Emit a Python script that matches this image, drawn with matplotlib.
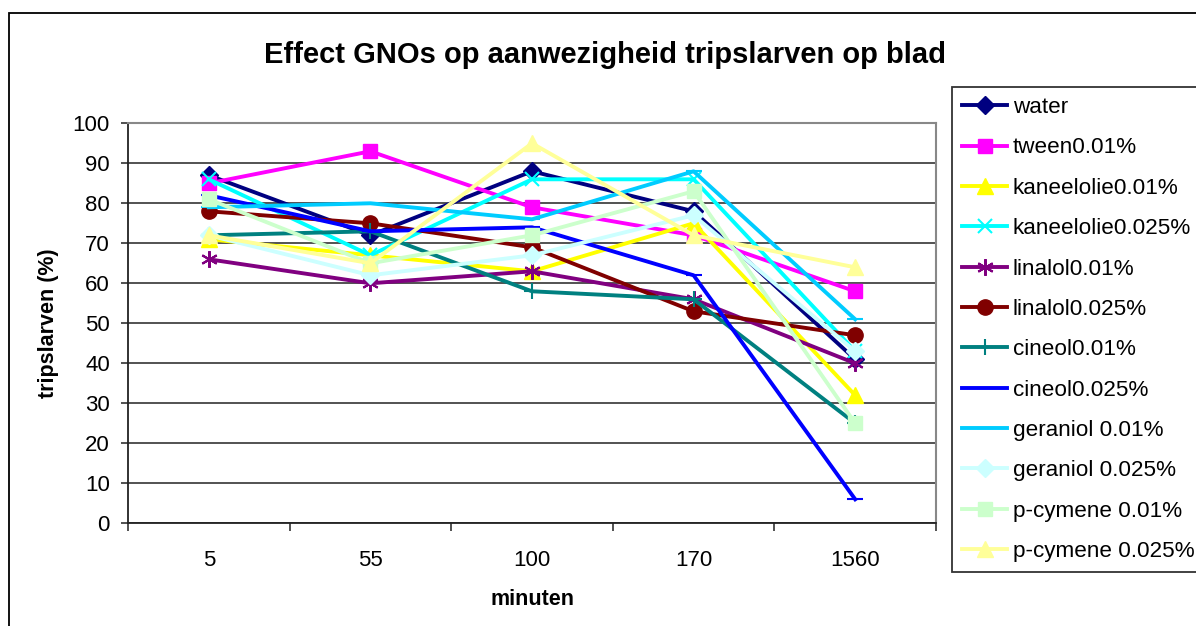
import matplotlib
matplotlib.use('Agg')
import matplotlib.pyplot as plt
import matplotlib.patches as patches

plt.rcParams['font.family'] = ['Liberation Sans', 'DejaVu Sans']

# data
minutes = ['5', '55', '100', '170', '1560']
series_names = ['water', 'tween0.01%', 'kaneelolie0.01%', 'kaneelolie0.025%',
                'linalol0.01%', 'linalol0.025%', 'cineol0.01%', 'cineol0.025%',
                'geraniol 0.01%', 'geraniol 0.025%', 'p-cymene 0.01%', 'p-cymene 0.025%']
water = [87, 72, 88, 78, 41]
tween = [85, 93, 79, 72, 58]
kaneel_01 = [71, 67, 63, 75, 32]
kaneel_025 = [86, 67, 86, 86, 43]
linalol_01 = [66, 60, 63, 56, 40]
linalol_025 = [78, 75, 69, 53, 47]
cineol_01 = [72, 73, 58, 56, 25]
cineol_025 = [82, 73, 74, 62, 6]
geraniol_01 = [79, 80, 76, 88, 51]
geraniol_025 = [72, 62, 67, 77, 43]
pcymene_01 = [81, 65, 72, 83, 25]
pcymene_025 = [72, 65, 95, 72, 64]

all_values = [water, tween, kaneel_01, kaneel_025, linalol_01, linalol_025,
              cineol_01, cineol_025, geraniol_01, geraniol_025, pcymene_01, pcymene_025]

colors = ['#000080', '#FF00FF', '#FFFF00', '#00FFFF', '#800080', '#800000',
          '#008080', '#0000FF', '#00CCFF', '#CCFFFF', '#CCFFCC', '#FFFF99']
markers = ['D', 's', '^', 'x', (6, 2, 0), 'o', '+', '_', '_', 'D', 's', '^']
msizes = [9, 10, 11, 10, 12, 11, 12, 12, 12, 9, 10, 11]

fig = plt.figure(figsize=(11.96, 6.26), dpi=100)
ax = fig.add_axes([128 / 1196, 1 - 523.3 / 626, (936 - 128) / 1196, 400 / 626])

x = list(range(len(minutes)))
for i, vals in enumerate(all_values):
    m = markers[i]
    mew = 1.5 if m in ('x', '+', '_') or isinstance(m, tuple) else 1
    ax.plot(x, vals, color=colors[i], lw=2.8, marker=m, markersize=msizes[i],
            markeredgewidth=mew, markeredgecolor=colors[i], markerfacecolor=colors[i],
            label=series_names[i], zorder=3 + i, clip_on=False)

ax.set_xlim(-0.5, 4.5)
ax.set_ylim(0, 100)
ax.set_yticks(range(0, 101, 10))
ax.yaxis.grid(True, color='#444444', lw=1.3, zorder=1)
ax.set_axisbelow(True)

# category ticks between categories, labels in the middle
ax.set_xticks([i - 0.5 for i in range(6)])
ax.set_xticklabels([])
ax.set_xticks(x, minor=True)
ax.set_xticklabels(minutes, minor=True)
ax.tick_params(axis='x', which='major', length=6, width=1.2, color='#333333')
ax.tick_params(axis='x', which='minor', length=0, pad=19, labelsize=16)
ax.tick_params(axis='y', length=5, width=1.2, color='#333333', labelsize=16, pad=8)

for side in ['top', 'right']:
    ax.spines[side].set_color('#888888')
    ax.spines[side].set_linewidth(1.5)
for side in ['left', 'bottom']:
    ax.spines[side].set_color('#222222')
    ax.spines[side].set_linewidth(1.3)

ax.set_xlabel('minuten', fontsize=15.5, fontweight='bold', labelpad=13)
ax.set_ylabel('tripslarven (%)', fontsize=15.5, fontweight='bold', labelpad=10)
fig.text(605 / 1196, 1 - 55 / 626, 'Effect GNOs op aanwezigheid tripslarven op blad',
         ha='center', va='center', fontsize=21, fontweight='bold')

leg = fig.legend(loc='upper left', bbox_to_anchor=(952 / 1196, 1 - 87 / 626),
                 fontsize=16.2, frameon=True, fancybox=False, edgecolor='black',
                 handlelength=2.0, handletextpad=0.25, labelspacing=0.86,
                 borderpad=0.45, borderaxespad=0)
leg.get_frame().set_linewidth(1.3)

# outer chart border
fig.add_artist(patches.Rectangle((9 / 1196, -0.1), 1.2, 1 - 13 / 626 + 0.1,
                                 transform=fig.transFigure, fill=False,
                                 edgecolor='black', lw=1.3))

fig.savefig('out.png', dpi=100)
